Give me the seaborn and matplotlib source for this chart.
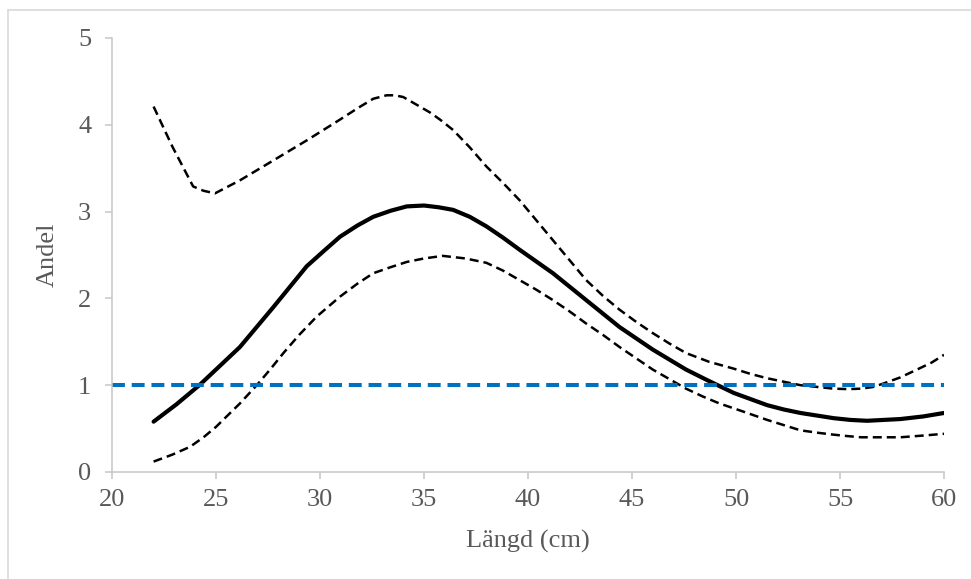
import seaborn as sns
import matplotlib.pyplot as plt
from matplotlib.lines import Line2D

# data
x_main = [22, 23.1, 24.2, 26.15, 27.76, 29.36, 30.2, 30.96, 31.8, 32.56, 33.4, 34.17,
          35.0, 35.7, 36.4, 37.2, 38.0, 38.8, 39.6, 41.2, 42.8, 44.4, 45.2, 46.0,
          47.6, 48.6, 49.9, 51.5, 52.3, 53.1, 54.7, 55.5, 56.3, 57.9, 59.0, 60]
y_main = [0.58, 0.78, 1.0, 1.44, 1.90, 2.37, 2.55, 2.71, 2.84, 2.94, 3.01, 3.06,
          3.07, 3.05, 3.02, 2.94, 2.83, 2.70, 2.56, 2.29, 1.98, 1.67, 1.54, 1.41,
          1.18, 1.06, 0.91, 0.77, 0.72, 0.68, 0.62, 0.60, 0.59, 0.61, 0.64, 0.68]

x_upper = [22, 22.9, 23.9, 24.4, 24.95, 26.15, 27.76, 29.36, 30.96, 31.8, 32.56, 33.2,
           33.6, 34.0, 34.8, 35.3, 35.77, 36.4, 37.2, 38.0, 38.8, 39.6, 40.4, 41.2,
           42.0, 42.8, 43.6, 44.4, 45.2, 46.0, 46.8, 47.6, 48.7, 49.9, 50.7, 51.5,
           52.3, 53.1, 54.7, 55.4, 56.0, 56.6, 57.1, 57.9, 58.7, 59.4, 60]
y_upper = [4.21, 3.75, 3.29, 3.24, 3.21, 3.36, 3.59, 3.82, 4.06, 4.19, 4.30, 4.34,
           4.34, 4.32, 4.21, 4.14, 4.06, 3.94, 3.74, 3.52, 3.33, 3.13, 2.90, 2.67,
           2.44, 2.21, 2.03, 1.87, 1.73, 1.60, 1.48, 1.37, 1.27, 1.19, 1.13, 1.08,
           1.04, 1.00, 0.96, 0.955, 0.96, 0.98, 1.02, 1.09, 1.18, 1.26, 1.35]

x_lower = [22, 22.9, 23.75, 24.4, 25.0, 26.15, 26.96, 27.6, 28.24, 29.0, 29.84, 30.96,
           31.8, 32.56, 33.4, 34.17, 35.0, 35.9, 37.0, 38.0, 38.8, 39.6, 40.4, 41.2,
           42.0, 42.8, 43.6, 44.4, 45.2, 46.0, 46.8, 47.6, 48.4, 49.2, 50.3, 51.5,
           52.3, 53.1, 54.0, 54.7, 55.3, 56.0, 57.9, 59.0, 60]
y_lower = [0.12, 0.20, 0.29, 0.40, 0.52, 0.79, 1.0, 1.18, 1.37, 1.58, 1.79, 2.02,
           2.17, 2.29, 2.36, 2.42, 2.46, 2.49, 2.46, 2.41, 2.32, 2.21, 2.10, 1.98,
           1.85, 1.71, 1.58, 1.44, 1.31, 1.18, 1.07, 0.96, 0.87, 0.79, 0.70, 0.60,
           0.54, 0.48, 0.45, 0.43, 0.415, 0.40, 0.40, 0.42, 0.44]

x_ref = [20, 60]
y_ref = [1, 1]

x_ticks = [20, 25, 30, 35, 40, 45, 50, 55, 60]
y_ticks = [0, 1, 2, 3, 4, 5]

sns.set_style("white")
plt.rcParams['font.family'] = ['Liberation Serif', 'DejaVu Serif']

grey = "#C6C6C6"
txt = "#595959"

fig = plt.figure(figsize=(9.71, 5.79), dpi=100)
ax = fig.add_axes([112 / 971, 1 - 472 / 579, (944 - 112) / 971, (472 - 38) / 579])

sns.lineplot(x=x_upper, y=y_upper, ax=ax, color="black", lw=1.8, sort=False)
sns.lineplot(x=x_lower, y=y_lower, ax=ax, color="black", lw=1.8, sort=False)
for ln in ax.lines:
    ln.set_dashes([3.6, 2.0])
sns.lineplot(x=x_main, y=y_main, ax=ax, color="black", lw=3.0, sort=False)
sns.lineplot(x=x_ref, y=y_ref, ax=ax, color="#0070C0", lw=2.9, sort=False)
ax.lines[-1].set_dashes([3.2, 1.7])
for ln in ax.lines:
    ln.set_solid_joinstyle("round")
    ln.set_dash_joinstyle("round")

ax.set_xlim(20, 60)
ax.set_ylim(0, 5)
ax.set_xticks(x_ticks)
ax.set_yticks(y_ticks)
ax.tick_params(axis="both", bottom=True, left=True, colors=grey, labelcolor=txt,
               labelsize=19, length=5, width=1.1, direction="out")
ax.tick_params(axis="y", pad=10)
ax.tick_params(axis="x", pad=7)
sns.despine(ax=ax)
for s in ["left", "bottom"]:
    ax.spines[s].set_color(grey)
    ax.spines[s].set_linewidth(1.1)

ax.set_xlabel("Längd (cm)", fontsize=19, color=txt, labelpad=14)
ax.set_ylabel("Andel", fontsize=19, color=txt, labelpad=14)

# chart area border (top and left edge visible)
fig.add_artist(Line2D([8 / 971, 1], [1 - 9.5 / 579] * 2, color="#D9D9D9", lw=1.2))
fig.add_artist(Line2D([8 / 971] * 2, [0, 1 - 9.5 / 579], color="#D9D9D9", lw=1.2))

fig.savefig("out.png", dpi=100)
